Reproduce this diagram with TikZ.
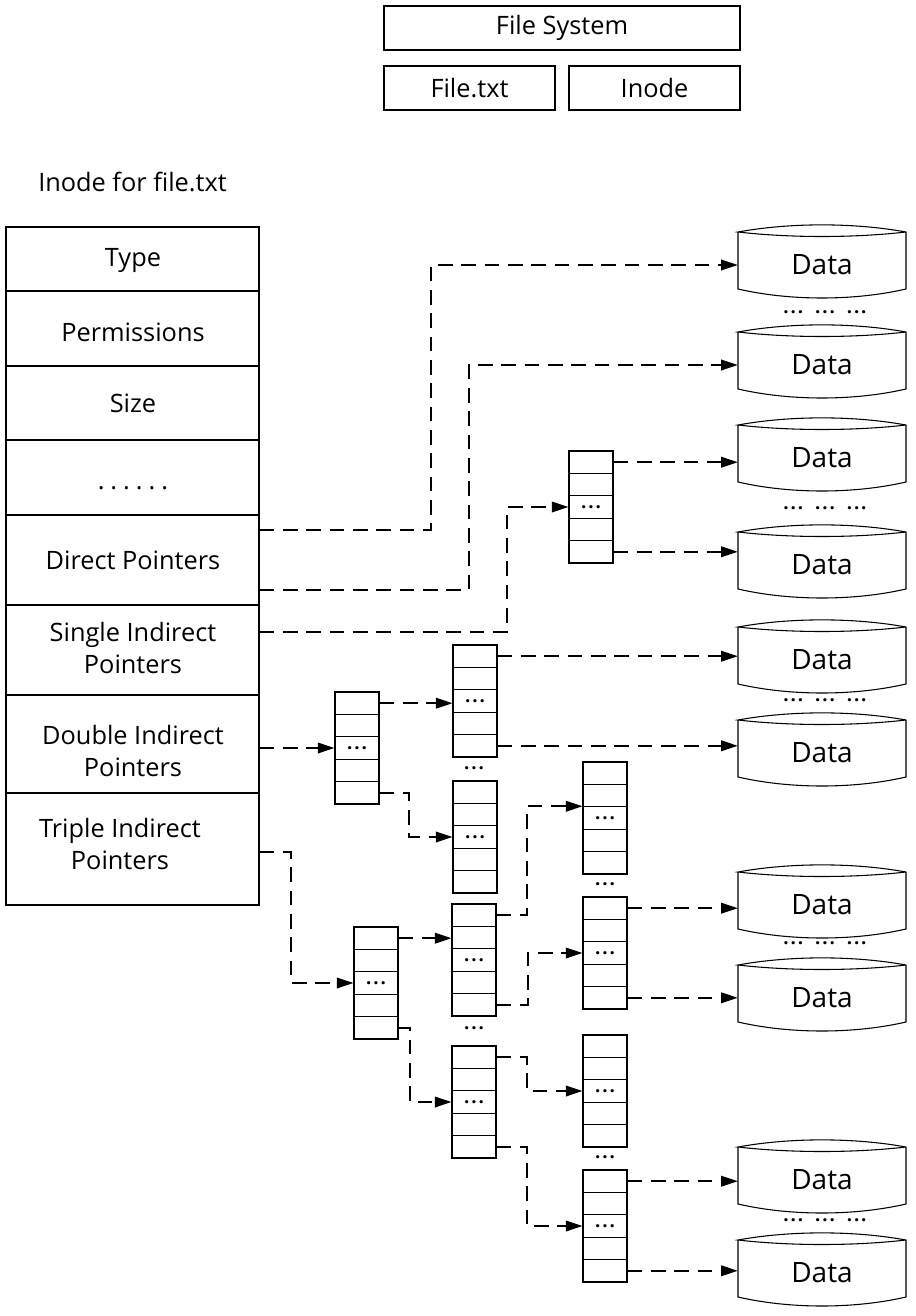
\documentclass[tikz,border=0pt]{standalone}
\usepackage{fontspec}
\setmainfont{Open Sans}
\usetikzlibrary{arrows.meta}
\tikzset{
  cell/.style={draw, line width=0.8pt, inner sep=0pt},
  lbl/.style={inner sep=0pt, font=\fontsize{19}{24}\selectfont, align=center},
  datalbl/.style={inner sep=0pt, font=\fontsize{21}{24}\selectfont},
  cylline/.style={line width=0.8pt},
  link/.style={line width=1.2pt, dash pattern=on 11pt off 6.5pt, -{Triangle[length=12.5pt,width=8pt]}},
  dotlbl/.style={inner sep=0pt}
}
\newcommand\tdots{{\fontsize{14}{14}\selectfont\bfseries .\kern1.4pt.\kern1.4pt.}}
\newcommand\bx[6]{\node[cell, lbl, minimum width={(#4-#2)*0.75pt}, minimum height={(#5-#3)*0.75pt}] (#1) at ({(#2+#4)/2},{(#3+#5)/2}) {#6};}
\newcommand\blk[3]{\foreach \i in {1,...,5}{\node[cell, minimum width=33pt, minimum height=16.8pt] (#1\i) at ({#2+22},{#3+11.2+22.4*(\i-1)}) {\ifnum\i=3 \tdots\fi};}}
\begin{document}
\begin{tikzpicture}[x=0.75pt,y=-0.75pt]
\useasboundingbox (0,0) rectangle (916,1316);

% top boxes
\bx{fs}{384}{6}{740}{50}{File System}
\bx{ft}{384}{66}{555}{110}{File.txt}
\bx{ino}{569}{66}{740}{110}{Inode}

\node[lbl, anchor=west] (title) at (38,182) {Inode for file.txt};

% inode table
\bx{r1}{6}{227}{259}{291}{}
\bx{r2}{6}{291}{259}{366}{}
\bx{r3}{6}{366}{259}{440}{}
\bx{r4}{6}{440}{259}{515}{}
\bx{dp}{6}{515}{259}{605}{}
\bx{sp}{6}{605}{259}{695}{}
\bx{dbl}{6}{695}{259}{793}{}
\bx{tp}{6}{793}{259}{905}{}
\node[lbl] (t1) at (133,261) {Type};
\node[lbl] (t2) at (133,332) {Permissions};
\node[lbl] (t3) at (133,403) {Size};
\node[inner sep=0pt, font=\fontsize{19}{24}\selectfont] (t4) at (133,488) {.\kern4.5pt.\kern4.5pt.\kern4.5pt.\kern4.5pt.\kern4.5pt.};
\node[lbl] (t5) at (133,560) {Direct Pointers};
\node[lbl] (t6) at (133,648) {Single Indirect\\Pointers};
\node[lbl] (t7) at (133,751) {Double Indirect\\Pointers};
\node[lbl] (t8) at (120,844) {Triple Indirect\\Pointers};

% data cylinders
\foreach \n/\c in {d1/265,d2/365,d3/458,d4/565,d5/660,d6/753,d7/905,d8/998,d9/1180,d10/1273}{
  \draw[cylline] (738,\c-33) -- (738,\c+24) .. controls (790,\c+36) and (854,\c+36) .. (906,\c+24)
     -- (906,\c-33) .. controls (854,\c-42.5) and (790,\c-42.5) .. (738,\c-33)
     .. controls (790,\c-27) and (854,\c-27) .. (906,\c-33);
  \node[datalbl, minimum width=126pt, minimum height=42.75pt] (\n) at (822,\c) {Data};
}
\foreach \y [count=\k] in {312,508,700,943,1220}{
  \node[dotlbl] (dd\k) at (825,\y) {\tdots\hspace{9pt}\tdots\hspace{9pt}\tdots};
}

% pointer blocks
\blk{A}{569}{451}
\blk{B}{335}{692}
\blk{C}{453}{645}
\blk{D}{453}{781}
\blk{E}{354}{927}
\blk{F}{452}{904}
\blk{G}{452}{1046}
\blk{H}{583}{762}
\blk{I}{583}{897}
\blk{J}{583}{1035}
\blk{K}{583}{1170}
\node[dotlbl] (bd1) at (474,768) {\tdots};
\node[dotlbl] (bd2) at (474,1028) {\tdots};
\node[dotlbl] (bd3) at (605,884) {\tdots};
\node[dotlbl] (bd4) at (605,1157) {\tdots};

% connectors
\draw[link] (dp.east|-0,530) -- (431,530) |- (d1.west);
\draw[link] (dp.east|-0,590) -- (469,590) |- (d2.west);
\draw[link] (sp.east|-0,632) -- (507,632) |- (A3.west);
\draw[link] (A1.east) -- (A1.east -| d3.west);
\draw[link] (A5.east) -- (A5.east -| d4.west);
\draw[link] (dbl.east|-B3.west) -- (B3.west);
\draw[link] (B1.east) -- (B1.east -| C3.west);
\draw[link] (B5.east) -- (409,0 |- B5.east) |- (D3.west);
\draw[link] (C1.east) -- (C1.east -| d5.west);
\draw[link] (C5.east) -- (C5.east -| d6.west);
\draw[link] (tp.east|-0,852) -- (291,852) |- (E3.west);
\draw[link] (E1.east) -- (E1.east -| F1.west);
\draw[link] (E5.east) -- (410,0 |- E5.east) |- (G3.west);
\draw[link] (F1.east) -- (527,0 |- F1.east) |- (H3.north west);
\draw[link] (F5.east) -- (528,0 |- F5.east) |- (I3.west);
\draw[link] (G1.east) -- (527,0 |- G1.east) |- (J3.west);
\draw[link] (G5.east) -- (527,0 |- G5.east) |- (K3.west);
\draw[link] (I1.east) -- (I1.east -| d7.west);
\draw[link] (I5.east) -- (I5.east -| d8.west);
\draw[link] (K1.east) -- (K1.east -| d9.west);
\draw[link] (K5.east) -- (K5.east -| d10.west);
\end{tikzpicture}
\end{document}
